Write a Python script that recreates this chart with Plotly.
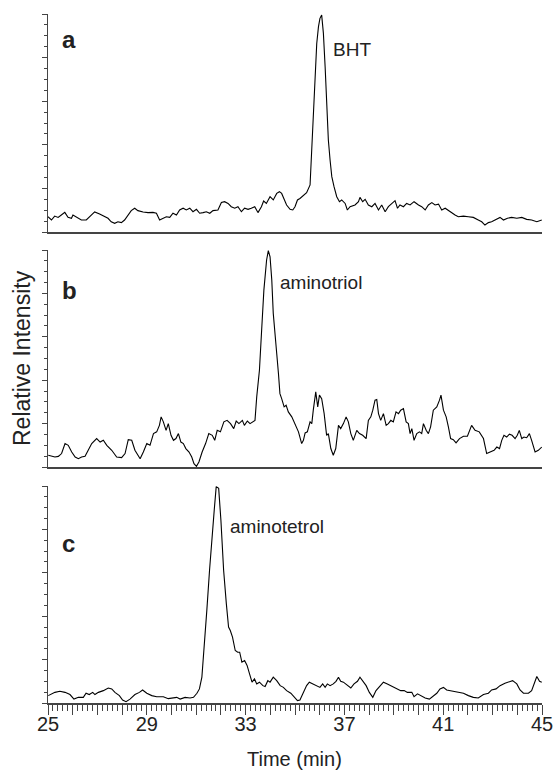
import plotly.graph_objects as go

# ---- data: (time in min, relative intensity %) ----
trace_a = [
    (25.00, 7.0), (25.14, 5.5), (25.27, 7.3), (25.41, 6.7), (25.54, 7.8), (25.68, 9.0), (25.81, 6.7),
    (25.95, 6.3), (26.01, 7.8), (26.15, 6.7), (26.35, 5.5), (26.55, 5.5), (26.69, 7.0), (26.89, 9.2),
    (27.09, 8.3), (27.29, 7.3), (27.43, 6.3), (27.56, 4.7), (27.70, 4.0), (27.83, 4.7), (27.97, 4.3),
    (28.10, 5.5), (28.24, 7.8), (28.37, 9.8), (28.51, 10.9), (28.64, 9.8), (28.85, 9.2), (29.05, 8.9),
    (29.25, 9.0), (29.39, 8.6), (29.52, 5.5), (29.66, 6.3), (29.79, 7.0), (29.93, 6.7), (30.06, 8.6),
    (30.20, 7.8), (30.33, 10.1), (30.47, 10.9), (30.60, 10.1), (30.74, 10.9), (30.87, 9.3), (31.01, 10.4),
    (31.14, 8.6), (31.28, 8.9), (31.41, 9.3), (31.55, 8.6), (31.68, 9.8), (31.88, 10.1), (32.02, 13.5),
    (32.15, 13.9), (32.29, 13.1), (32.42, 11.6), (32.56, 10.9), (32.69, 11.6), (32.83, 9.3), (32.96, 10.9),
    (33.10, 10.4), (33.23, 10.9), (33.37, 11.6), (33.50, 8.9), (33.64, 11.6), (33.73, 14.2), (33.84, 13.1),
    (33.99, 16.2), (34.12, 14.7), (34.26, 17.7), (34.37, 18.5), (34.46, 17.7), (34.56, 14.7), (34.66, 12.4),
    (34.80, 10.4), (34.91, 10.1), (35.00, 11.6), (35.10, 14.7), (35.20, 15.4), (35.34, 17.0), (35.47, 18.0),
    (35.61, 21.6), (35.68, 37.6), (35.74, 56.0), (35.81, 72.8), (35.88, 86.5), (35.95, 94.2), (36.01, 98.0),
    (36.08, 99.5), (36.15, 91.1), (36.22, 75.8), (36.28, 57.5), (36.35, 42.2), (36.42, 33.0), (36.49, 25.4),
    (36.58, 20.8), (36.69, 16.2), (36.80, 13.9), (36.89, 14.7), (37.03, 13.1), (37.12, 10.1), (37.23, 11.6),
    (37.43, 12.4), (37.57, 13.9), (37.63, 15.9), (37.74, 13.9), (37.84, 15.0), (37.97, 12.4), (38.11, 11.6),
    (38.24, 13.1), (38.38, 10.1), (38.51, 12.4), (38.65, 9.3), (38.78, 11.6), (38.92, 13.1), (39.05, 14.4),
    (39.15, 10.9), (39.25, 12.4), (39.39, 11.6), (39.52, 13.1), (39.66, 12.4), (39.82, 13.9), (40.00, 12.4),
    (40.13, 11.6), (40.27, 10.1), (40.40, 12.4), (40.54, 13.5), (40.67, 12.4), (40.81, 12.8), (40.94, 10.1),
    (41.08, 10.9), (41.21, 9.8), (41.35, 8.6), (41.48, 7.8), (41.61, 7.0), (41.82, 7.3), (42.02, 7.0),
    (42.22, 6.7), (42.42, 5.5), (42.56, 4.7), (42.69, 3.2), (42.83, 4.3), (42.96, 4.7), (43.10, 5.5),
    (43.30, 6.7), (43.44, 5.5), (43.60, 6.3), (43.77, 6.7), (43.98, 6.3), (44.18, 6.7), (44.38, 5.8),
    (44.58, 5.5), (44.79, 4.7), (44.99, 5.5),
]

trace_b = [
    (25.01, 5.4), (25.15, 4.9), (25.28, 4.6), (25.42, 4.9), (25.55, 6.2), (25.69, 10.8), (25.82, 10.0),
    (25.96, 6.9), (26.10, 4.6), (26.23, 3.8), (26.36, 4.6), (26.50, 4.9), (26.63, 7.7), (26.77, 10.8),
    (26.97, 13.1), (27.11, 11.5), (27.24, 12.3), (27.38, 10.0), (27.58, 7.7), (27.78, 4.6), (27.98, 4.3),
    (28.12, 6.2), (28.25, 12.6), (28.39, 12.3), (28.52, 7.7), (28.73, 3.8), (28.86, 6.9), (29.00, 10.8),
    (29.13, 10.0), (29.27, 15.4), (29.40, 16.2), (29.51, 19.2), (29.58, 23.1), (29.67, 20.8), (29.78, 16.9),
    (29.87, 20.0), (29.98, 14.6), (30.08, 12.3), (30.18, 13.1), (30.28, 15.4), (30.38, 11.5), (30.48, 10.8),
    (30.58, 8.5), (30.71, 6.9), (30.82, 4.6), (30.91, 1.5), (31.01, 0.3), (31.11, 2.3), (31.24, 6.9),
    (31.38, 10.8), (31.51, 15.4), (31.65, 14.6), (31.75, 12.3), (31.85, 16.9), (31.98, 16.2), (32.12, 20.8),
    (32.25, 21.5), (32.39, 20.0), (32.52, 17.7), (32.62, 21.2), (32.73, 20.0), (32.87, 21.5), (32.95, 19.2),
    (33.07, 21.2), (33.18, 20.0), (33.28, 20.8), (33.38, 21.5), (33.45, 32.3), (33.56, 44.6), (33.65, 63.1),
    (33.74, 81.5), (33.85, 95.4), (33.92, 99.7), (33.99, 96.9), (34.06, 86.2), (34.12, 70.8), (34.19, 60.0),
    (34.26, 52.3), (34.33, 43.1), (34.39, 33.8), (34.46, 31.5), (34.56, 27.7), (34.64, 28.5), (34.73, 25.4),
    (34.87, 23.1), (35.00, 20.0), (35.14, 16.2), (35.27, 10.8), (35.34, 12.3), (35.41, 15.7), (35.50, 16.2),
    (35.61, 20.8), (35.68, 20.0), (35.74, 26.2), (35.84, 34.6), (35.92, 27.7), (35.99, 33.1), (36.08, 31.5),
    (36.18, 24.6), (36.28, 14.6), (36.35, 15.4), (36.45, 8.5), (36.55, 5.4), (36.65, 8.5), (36.76, 19.2),
    (36.85, 17.7), (36.96, 20.0), (37.07, 23.1), (37.16, 20.8), (37.26, 15.4), (37.36, 12.3), (37.50, 16.9),
    (37.61, 15.4), (37.74, 14.6), (37.88, 13.1), (37.97, 21.5), (38.07, 23.1), (38.15, 26.2), (38.24, 30.8),
    (38.31, 31.1), (38.38, 24.6), (38.47, 21.5), (38.58, 24.6), (38.69, 19.2), (38.78, 20.0), (38.88, 21.5),
    (38.98, 20.8), (39.09, 25.4), (39.19, 24.6), (39.28, 26.2), (39.39, 26.9), (39.50, 20.8), (39.59, 20.0),
    (39.66, 15.4), (39.73, 17.7), (39.82, 12.3), (39.93, 15.4), (40.04, 16.2), (40.13, 15.4), (40.20, 20.0),
    (40.31, 16.9), (40.40, 15.4), (40.49, 18.5), (40.60, 26.2), (40.74, 27.7), (40.85, 30.8), (40.91, 33.1),
    (41.01, 26.2), (41.12, 23.1), (41.21, 18.5), (41.30, 13.1), (41.41, 12.6), (41.52, 11.1), (41.66, 13.1),
    (41.82, 14.2), (41.98, 14.2), (42.15, 19.2), (42.29, 16.9), (42.46, 16.2), (42.63, 13.1), (42.76, 6.2),
    (42.90, 6.9), (43.06, 7.7), (43.17, 9.2), (43.28, 8.5), (43.37, 12.3), (43.46, 14.6), (43.57, 13.8),
    (43.68, 15.1), (43.79, 14.6), (43.91, 13.1), (44.00, 14.6), (44.08, 16.9), (44.18, 13.1), (44.27, 13.8),
    (44.38, 13.5), (44.49, 15.4), (44.58, 12.3), (44.72, 6.9), (44.85, 7.7), (44.99, 9.2),
]

trace_c = [
    (25.01, 3.4), (25.15, 4.2), (25.28, 4.9), (25.48, 5.4), (25.69, 4.9), (25.89, 3.9), (26.05, 1.8),
    (26.23, 2.6), (26.43, 2.6), (26.54, 4.5), (26.67, 3.9), (26.81, 4.9), (26.90, 3.9), (27.04, 4.9),
    (27.24, 5.7), (27.44, 6.9), (27.58, 6.5), (27.71, 4.9), (27.89, 3.4), (28.02, 1.4), (28.16, 0.6),
    (28.32, 1.8), (28.52, 3.9), (28.70, 4.9), (28.83, 6.0), (29.00, 4.5), (29.20, 3.4), (29.40, 2.9),
    (29.67, 2.9), (29.87, 2.0), (30.08, 2.2), (30.21, 2.6), (30.35, 1.8), (30.55, 2.6), (30.75, 2.3),
    (30.89, 2.6), (31.03, 4.5), (31.13, 6.5), (31.23, 11.9), (31.32, 24.2), (31.43, 42.7), (31.54, 61.2),
    (31.65, 79.7), (31.73, 88.9), (31.81, 99.7), (31.91, 98.9), (32.00, 84.3), (32.11, 61.2), (32.22, 45.8),
    (32.31, 35.0), (32.38, 33.4), (32.47, 30.4), (32.58, 24.2), (32.68, 23.4), (32.76, 23.4), (32.85, 18.8),
    (32.96, 19.6), (33.06, 17.3), (33.16, 13.4), (33.26, 9.6), (33.36, 11.1), (33.45, 8.8), (33.56, 9.6),
    (33.70, 8.0), (33.79, 7.6), (33.90, 10.3), (33.99, 9.6), (34.12, 11.9), (34.26, 10.3), (34.40, 8.0),
    (34.53, 7.2), (34.66, 5.7), (34.83, 4.5), (34.96, 2.6), (35.10, 1.1), (35.20, 1.4), (35.34, 4.9),
    (35.47, 8.0), (35.58, 9.6), (35.74, 8.8), (35.88, 8.0), (36.01, 7.2), (36.12, 8.8), (36.22, 7.2),
    (36.31, 8.8), (36.42, 8.0), (36.55, 8.8), (36.66, 10.0), (36.76, 11.9), (36.85, 10.0), (36.96, 9.6),
    (37.12, 8.0), (37.26, 6.9), (37.39, 8.8), (37.53, 10.0), (37.63, 11.9), (37.74, 10.3), (37.88, 8.0),
    (38.01, 4.9), (38.15, 2.6), (38.28, 5.7), (38.44, 8.0), (38.58, 9.6), (38.74, 8.8), (38.88, 8.0),
    (39.01, 7.6), (39.15, 6.5), (39.28, 5.7), (39.42, 5.7), (39.55, 4.9), (39.73, 4.9), (39.82, 2.9),
    (39.96, 4.2), (40.09, 3.4), (40.27, 2.3), (40.44, 1.8), (40.60, 3.4), (40.74, 4.5), (40.87, 6.5),
    (41.01, 7.2), (41.14, 6.0), (41.30, 5.7), (41.48, 5.4), (41.66, 4.9), (41.82, 4.5), (42.02, 3.4),
    (42.22, 2.6), (42.42, 2.3), (42.63, 3.9), (42.83, 4.5), (42.96, 6.0), (43.14, 6.5), (43.30, 8.0),
    (43.50, 9.1), (43.68, 10.0), (43.81, 10.3), (43.98, 8.8), (44.11, 6.0), (44.25, 4.5), (44.45, 4.5),
    (44.58, 5.7), (44.72, 9.6), (44.79, 12.2), (44.90, 10.0), (44.99, 9.6),
]

panel_letters = ["a", "b", "c"]
peak_labels = ["BHT", "aminotriol", "aminotetrol"]
major_times = list(range(25, 46))
labelled_times = [25, 29, 33, 37, 41, 45]
x_title = "Time (min)"
y_title = "Relative Intensity"

# ---- layout geometry (page pixels; body margin is removed below) ----
W, H = 554, 773
PLOT_L, PLOT_R, PLOT_T, PLOT_B = 48, 542, 14, 703
L, R = PLOT_L, W - PLOT_R
T, B = PLOT_T, H - PLOT_B
PW, PH = PLOT_R - PLOT_L, PLOT_B - PLOT_T


def py(ypx):
    return (PLOT_B - ypx) / PH


def px(xpx):
    return (xpx - PLOT_L) / PW


panel_px = [(14, 232), (250, 467), (486, 703)]
letter_pos = [(60, 39), (60, 290), (60, 543)]
peak_pos = [(331, 49), (278, 282), (228, 526)]

AX = "#444444"
TXT = "#222222"
FONT = "Liberation Sans, Arial, sans-serif"

fig = go.Figure()
traces = [trace_a, trace_b, trace_c]
for i, tr in enumerate(traces):
    n = "" if i == 0 else str(i + 1)
    fig.add_trace(go.Scatter(
        x=[p[0] for p in tr], y=[p[1] for p in tr], mode="lines",
        line=dict(color="black", width=1.1), xaxis="x" + n, yaxis="y" + n,
        showlegend=False, hoverinfo="skip",
    ))

layout = dict(
    template="none",
    width=W, height=H, margin=dict(l=L, r=R, t=T, b=B, pad=0, autoexpand=False),
    paper_bgcolor="white", plot_bgcolor="white",
    font=dict(family=FONT, color=TXT, size=20),
    showlegend=False,
)

tick_text = [str(t) if t in labelled_times else "" for t in major_times]

for i, (top, bot) in enumerate(panel_px):
    n = "" if i == 0 else str(i + 1)
    yax = dict(
        domain=[py(bot), py(top)], range=[0, 100], anchor="x" + n, automargin=False,
        showline=True, linecolor=AX, linewidth=1.5, showgrid=False, zeroline=False,
        ticks="outside", tickmode="linear", tick0=0, dtick=20, ticklen=5, tickwidth=1,
        tickcolor=AX, showticklabels=False,
        minor=dict(tickmode="linear", tick0=0, dtick=5, ticks="outside", ticklen=3,
                   tickwidth=1, tickcolor=AX, showgrid=False),
        fixedrange=True,
    )
    xax = dict(
        domain=[0, 1], range=[25, 45], anchor="y" + n, automargin=False,
        showline=True, linecolor=AX, linewidth=1.5, showgrid=False, zeroline=False,
        fixedrange=True,
    )
    if i == 2:
        xax.update(
            ticks="outside", tickmode="array", tickvals=major_times, ticktext=tick_text,
            ticklen=10, tickwidth=1, tickcolor=AX, showticklabels=True,
            ticklabelstandoff=-8, ticklabeloverflow="allow",
            tickfont=dict(size=20, color=TXT, family=FONT),
            minor=dict(tickmode="linear", tick0=25, dtick=0.2, ticks="outside",
                       ticklen=6, tickwidth=1, tickcolor=AX, showgrid=False),
        )
    else:
        xax.update(ticks="", showticklabels=False)
    layout["yaxis" + n] = yax
    layout["xaxis" + n] = xax

annotations = []
for (lx, ly), t in zip(letter_pos, panel_letters):
    annotations.append(dict(
        x=px(lx), y=py(ly), xref="paper", yref="paper", text="<b>%s</b>" % t,
        showarrow=False, xanchor="left", yanchor="middle",
        font=dict(size=24, color=TXT, family=FONT),
    ))
for (lx, ly), t in zip(peak_pos, peak_labels):
    annotations.append(dict(
        x=px(lx), y=py(ly), xref="paper", yref="paper", text=t,
        showarrow=False, xanchor="left", yanchor="middle",
        font=dict(size=19, color=TXT, family=FONT),
    ))
annotations.append(dict(
    x=px(294), y=py(759), xref="paper", yref="paper", text=x_title,
    showarrow=False, xanchor="center", yanchor="middle",
    font=dict(size=20, color=TXT, family=FONT),
))
annotations.append(dict(
    x=px(22), y=py(358), xref="paper", yref="paper", text=y_title, textangle=-90,
    showarrow=False, xanchor="center", yanchor="middle",
    font=dict(size=23, color=TXT, family=FONT),
))
layout["annotations"] = annotations

fig.update_layout(**layout)
fig.write_html(
    "out.html",
    config={"displayModeBar": False, "staticPlot": True},
    post_script="document.body.style.margin='0';document.body.style.overflow='hidden';",
)
